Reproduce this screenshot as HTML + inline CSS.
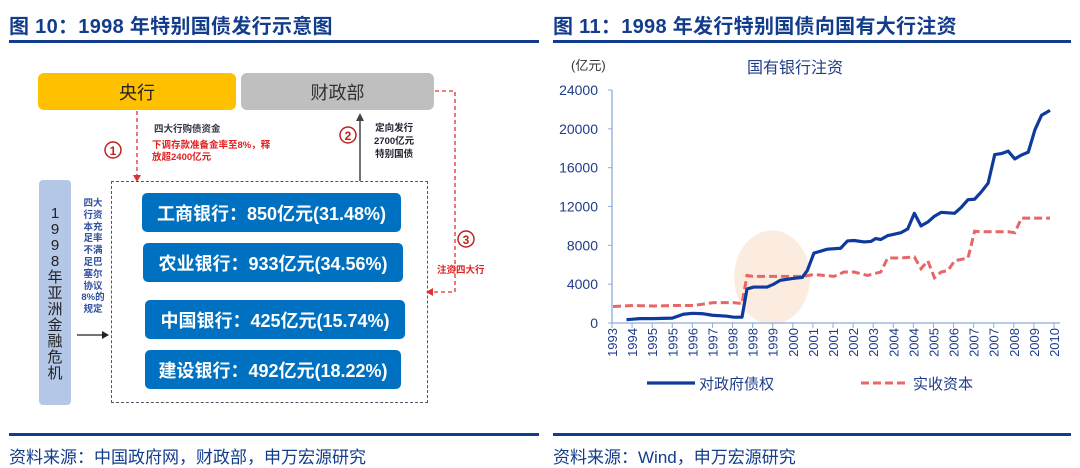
<!DOCTYPE html>
<html><head><meta charset="utf-8">
<style>
body{margin:0;width:1080px;height:465px;background:#fff;position:relative;overflow:hidden;font-family:"Liberation Sans","Noto Sans CJK SC",sans-serif;}
.abs{position:absolute;}
.title{font-weight:bold;font-size:20px;color:#123C8C;top:10px;letter-spacing:0.3px}
.hl{height:3px;background:#123C8C;}
.src{font-size:17px;color:#123C8C;top:443px}
.bank{position:absolute;background:#0070C0;color:#fff;border-radius:5px;font-weight:bold;font-size:18px;display:flex;align-items:center;justify-content:center;}
</style></head><body>
<div class="abs title" style="left:9px">图 10：1998 年特别国债发行示意图</div>
<div class="abs title" style="left:553px">图 11：1998 年发行特别国债向国有大行注资</div>
<div class="abs hl" style="left:9px;top:40px;width:530px"></div>
<div class="abs hl" style="left:553px;top:40px;width:518px"></div>
<div class="abs hl" style="left:9px;top:433px;width:530px"></div>
<div class="abs hl" style="left:553px;top:433px;width:518px"></div>
<div class="abs src" style="left:9px">资料来源：中国政府网，财政部，申万宏源研究</div>
<div class="abs src" style="left:553px">资料来源：Wind，申万宏源研究</div>

<!-- diagram -->
<div class="abs" style="left:38px;top:73px;width:198px;height:37px;background:#FFC000;border-radius:6px;font-size:18px;display:flex;align-items:center;justify-content:center;color:#222">央行</div>
<div class="abs" style="left:241px;top:73px;width:193px;height:37px;background:#BFBFBF;border-radius:6px;font-size:18px;display:flex;align-items:center;justify-content:center;color:#333">财政部</div>
<div class="abs" style="left:39px;top:180px;width:32px;height:225px;background:#B4C7E7;border-radius:4px;font-size:15px;color:#222;text-align:center;line-height:16px;padding-top:26px;box-sizing:border-box">1<br>9<br>9<br>8<br>年<br>亚<br>洲<br>金<br>融<br>危<br>机</div>
<div class="abs" style="left:78px;top:198px;width:30px;font-size:9.5px;line-height:11.8px;color:#3050A0;font-weight:bold;text-align:center">四大<br>行资<br>本充<br>足率<br>不满<br>足巴<br>塞尔<br>协议<br>8%的<br>规定</div>
<div class="abs" style="left:111px;top:181px;width:315px;height:220px;border:1.3px dashed #556;"></div>
<div class="bank" style="left:142px;top:193px;width:259px;height:39px">工商银行：850亿元(31.48%)</div>
<div class="bank" style="left:143px;top:243px;width:260px;height:39px">农业银行：933亿元(34.56%)</div>
<div class="bank" style="left:145px;top:300px;width:260px;height:39px">中国银行：425亿元(15.74%)</div>
<div class="bank" style="left:145px;top:350px;width:256px;height:39px">建设银行：492亿元(18.22%)</div>
<div class="abs" style="left:154px;top:121px;font-size:9.5px;color:#334;font-weight:bold">四大行购债资金</div>
<div class="abs" style="left:152px;top:140px;font-size:9.5px;line-height:12px;color:#E02020;font-weight:bold">下调存款准备金率至8%，释<br>放超2400亿元</div>
<div class="abs" style="left:374px;top:122px;font-size:9.5px;line-height:13px;color:#223;font-weight:bold;text-align:center">定向发行<br>2700亿元<br>特别国债</div>
<div class="abs" style="left:437px;top:262px;font-size:9.5px;color:#E02020;font-weight:bold">注资四大行</div>
<svg class="abs" style="left:0;top:0" width="540" height="430">
<line x1="137" y1="111" x2="137" y2="176" stroke="#E03030" stroke-width="1.3" stroke-dasharray="4,3"/>
<polygon points="133,175 141,175 137,182" fill="#E03030"/>
<line x1="360" y1="181" x2="360" y2="120" stroke="#444" stroke-width="1.5"/>
<polygon points="356,121 364,121 360,113" fill="#444"/>
<polyline points="435,91 455,91 455,292 432,292" fill="none" stroke="#E03030" stroke-width="1.3" stroke-dasharray="4,3"/>
<polygon points="433,288 433,296 426,292" fill="#E03030"/>
<line x1="77" y1="335" x2="102" y2="335" stroke="#222" stroke-width="1.3"/>
<polygon points="102,331 102,339 109,335" fill="#222"/>
<circle cx="113" cy="150" r="8" fill="none" stroke="#C02020" stroke-width="1.5"/>
<text x="113" y="155" font-size="12" text-anchor="middle" fill="#C02020" font-weight="bold">1</text>
<circle cx="348" cy="135" r="8" fill="none" stroke="#C02020" stroke-width="1.5"/>
<text x="348" y="140" font-size="12" text-anchor="middle" fill="#C02020" font-weight="bold">2</text>
<circle cx="466" cy="239" r="8" fill="none" stroke="#C02020" stroke-width="1.5"/>
<text x="466" y="244" font-size="12" text-anchor="middle" fill="#C02020" font-weight="bold">3</text>
</svg>

<svg id="chart" class="abs" style="left:0;top:0" width="1080" height="430"></svg>
<script>
const xLabels=["1993","1994","1995","1995","1996","1997","1998","1998","1999","2000","2001","2001","2002","2003","2004","2004","2005","2006","2007","2007","2008","2009","2010"];
const yTicks=[0,4000,8000,12000,16000,20000,24000];
const debtPeriods=[0.72,1.38,2,3,3.55,4,4.55,5,5.72,6.05,6.47,6.72,7.05,7.72,8.05,8.38,9.05,9.47,9.72,10.05,10.72,11.38,11.72,12.05,12.55,12.88,13.13,13.38,13.72,14.38,14.72,15.05,15.38,15.72,16.05,16.38,17.05,17.38,17.72,18.05,18.38,18.72,19.05,19.38,19.72,20.05,20.38,20.72,21.05,21.38,21.8];
const debtValues=[340,450,450,500,900,1000,950,800,700,600,600,3500,3700,3700,4000,4400,4600,4700,5400,7200,7600,7700,8450,8500,8350,8400,8700,8600,9000,9300,9700,11300,10000,10400,11000,11400,11300,11900,12700,12750,13500,14400,17350,17450,17700,16900,17300,17600,19900,21400,21900];
const capPeriods=[0.05,1.05,2.05,3.05,4.05,5.05,6.05,6.47,6.72,7.05,8.55,9.55,10.05,11.05,11.55,12.05,12.72,13.38,13.72,14.38,15.05,15.38,15.72,16.05,16.38,16.72,17.05,17.72,18.05,18.38,19.72,20.05,20.38,21.8];
const capValues=[1700,1800,1750,1800,1800,2100,2100,2000,4900,4800,4800,4800,5000,4800,5250,5250,4900,5250,6700,6700,6800,5600,6400,4650,5250,5400,6400,6700,9450,9400,9400,9300,10800,10800];

const svg=document.getElementById('chart');const NS='http://www.w3.org/2000/svg';
const X0=612,X1=1054,Y0=323,Y1=90;
const xs=p=>X0+p*(X1-X0)/(xLabels.length-1);
const ys=v=>Y0-v*(Y0-Y1)/24000;
function mk(t,a,txt){const e=document.createElementNS(NS,t);for(const k in a)e.setAttribute(k,a[k]);if(txt!=null)e.textContent=txt;svg.appendChild(e);return e;}
let e=mk('ellipse',{cx:xs(7.97),cy:ys(4700),rx:38,ry:47,fill:'#FBE5D6',opacity:0.75});


e=mk('text',{x:795,y:73,'font-size':16,'text-anchor':'middle',fill:'#1F3C88'},'国有银行注资');


e=mk('text',{x:571,y:70,'font-size':13,fill:'#333'},'(亿元)');


e=mk('line',{x1:X0,y1:Y0,x2:X0,y2:Y1,stroke:'#8FAADC','stroke-width':1.3});


e=mk('line',{x1:X0,y1:Y0,x2:X1+6,y2:Y0,stroke:'#8FAADC','stroke-width':1.3});


yTicks.forEach(v=>{mk('line',{x1:X0-4,y1:ys(v),x2:X0,y2:ys(v),stroke:'#8FAADC'});
 e=mk('text',{x:X0-14,y:ys(v)+5,'font-size':14,'text-anchor':'end',fill:'#1F3C88'},String(v));
 
 });
xLabels.forEach((l,i)=>{const x=xs(i);mk('line',{x1:x,y1:Y0,x2:x,y2:Y0+5,stroke:'#8FAADC'});
 e=mk('text',{x:0,y:0,'font-size':13,'text-anchor':'end',fill:'#1F3C88',transform:`translate(${x+5},${Y0+5}) rotate(-90)`},l);
 
 });
e=mk('polyline',{points:capPeriods.map((p,i)=>xs(p)+','+ys(capValues[i])).join(' '),fill:'none',stroke:'#E86666','stroke-width':3,'stroke-dasharray':'8,4'});


e=mk('polyline',{points:debtPeriods.map((p,i)=>xs(p)+','+ys(debtValues[i])).join(' '),fill:'none',stroke:'#0D3A9C','stroke-width':3.2,'stroke-linejoin':'round'});


e=mk('line',{x1:647,y1:383,x2:695,y2:383,stroke:'#0D3A9C','stroke-width':3.2});


e=mk('text',{x:699,y:389,'font-size':15,fill:'#1F3C88'},'对政府债权');


e=mk('line',{x1:861,y1:383,x2:909,y2:383,stroke:'#E86666','stroke-width':3,'stroke-dasharray':'8,4'});


e=mk('text',{x:913,y:389,'font-size':15,fill:'#1F3C88'},'实收资本');


</script>
</body></html>
